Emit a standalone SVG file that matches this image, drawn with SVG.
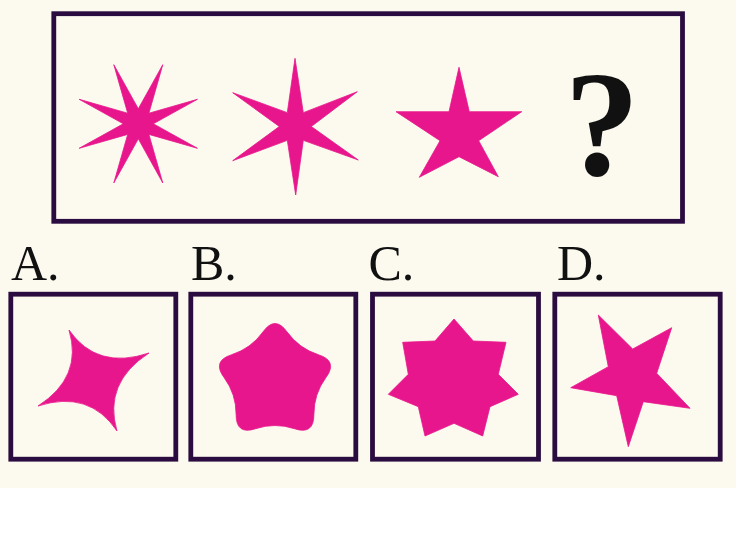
<svg xmlns="http://www.w3.org/2000/svg" width="736" height="543" viewBox="0 0 736 543">
<style>
.frame{fill:none;stroke:#2b0c40;stroke-width:4.8}
.shape{fill:#e8168c;stroke:#e8168c;stroke-width:0.8;stroke-linejoin:miter}
.label{font-family:"Liberation Serif","DejaVu Serif",serif;font-size:50px;fill:#111}
.q{font-family:"Liberation Serif","DejaVu Serif",serif;font-size:150px;font-weight:bold;fill:#111}
</style>
<rect x="0" y="0" width="736" height="543" fill="#ffffff"/>
<rect x="0" y="0" width="736" height="488" fill="#fcfaef"/>

<g id="question-panel">
<rect class="frame" x="53.8" y="13.7" width="628.7" height="207.6"/>
<g id="star-8">
<polygon class="shape" points="162.79,64.67 148.91,113.19 197.43,99.31 153.3,123.8 197.43,148.29 148.91,134.41 162.79,182.93 138.3,138.8 113.81,182.93 127.69,134.41 79.17,148.29 123.3,123.8 79.17,99.31 127.69,113.19 113.81,64.67 138.3,108.8"/>
</g>
<g id="star-6">
<polygon class="shape" points="295,58.3 303.3,112.64 357.3,91.7 311.3,126.5 358.3,160 303.3,140.36 295.7,195 287.3,140.36 232.7,160.7 279.3,126.5 232.7,92.7 287.3,112.64"/>
</g>
<g id="star-5">
<polygon class="shape" points="459,67.3 469.3,111.7 521.7,111.7 478.7,140.7 498.3,176.7 459,156.7 419.3,177.3 440,140.7 396,111.7 449,111.7"/>
</g>
<g id="question">
<text class="q" x="602" y="175" text-anchor="middle">?</text>
</g>
</g>

<g id="option-a">
<text class="label" x="11" y="280">A.</text>
<rect class="frame" x="10.8" y="294.2" width="165" height="165"/>
<path class="shape" d="M69,330 Q97,370.4 149,353 Q103,383 117,431 Q89.1,389.6 38,406 Q83.1,377 69,330 Z"/>
</g>

<g id="option-b">
<text class="label" x="191" y="280">B.</text>
<rect class="frame" x="190.8" y="294.2" width="165" height="165"/>
<path class="shape" d="M263.02,331.84 Q275,315.17 286.99,331.84 Q298.97,348.51 318.53,354.76 Q338.08,361 325.93,377.55 Q313.78,394.1 313.89,414.63 Q313.99,435.16 294.5,428.72 Q275,422.28 255.51,428.72 Q236.01,435.16 236.12,414.63 Q236.22,394.1 224.07,377.55 Q211.92,361 231.48,354.76 Q251.03,348.51 263.02,331.84 Z"/>
</g>

<g id="option-c">
<text class="label" x="368.5" y="280">C.</text>
<rect class="frame" x="372.5" y="294.2" width="166" height="165"/>
<polygon class="shape" points="454,319 473.3,341 506,342.3 498.3,374.3 518.3,394.3 490,406.7 482.7,436 454,423.3 425,436 418.3,406.7 388.3,394.3 408.3,374.3 402.7,342.3 435,341"/>
</g>

<g id="option-d">
<text class="label" x="557" y="280">D.</text>
<rect class="frame" x="554.8" y="294.2" width="165.4" height="165"/>
<polygon class="shape" points="598.3,315 632.7,349 671.7,327.7 656.7,373.3 690,408.3 643.3,401.7 628.3,446.7 616.7,395.7 570.7,387.7 608.3,366.7"/>
</g>
</svg>
